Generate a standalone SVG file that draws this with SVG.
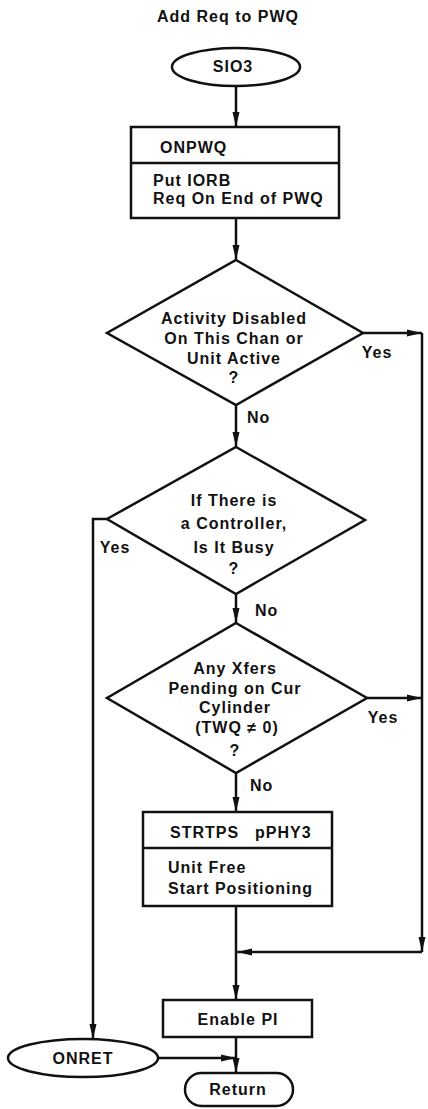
<svg xmlns="http://www.w3.org/2000/svg" width="428" height="1109" viewBox="0 0 428 1109">
  <style>
    .shape { fill: #fff; stroke: #111; stroke-width: 2.5; }
    .line { fill: none; stroke: #111; stroke-width: 2.5; }
    text { font-family: "Liberation Sans", Arial, sans-serif; font-size: 16px; font-weight: bold; fill: #111; letter-spacing: 1px; }
    .mid { text-anchor: middle; }
  </style>
  <defs>
    <marker id="arrow" markerUnits="userSpaceOnUse" markerWidth="16" markerHeight="8" refX="15" refY="4" orient="auto">
      <path d="M0,0.5 L15,4 L0,7.5 z" fill="#111"/>
    </marker>
  </defs>

  <text id="title" class="mid" x="228" y="22">Add Req to PWQ</text>

  <!-- connectors -->
  <g id="connectors">
    <path class="line" d="M236,86 V127" marker-end="url(#arrow)"/>
    <path class="line" d="M236,218 V260" marker-end="url(#arrow)"/>
    <path class="line" d="M236,405 V447" marker-end="url(#arrow)"/>
    <path class="line" d="M236,594 V623" marker-end="url(#arrow)"/>
    <path class="line" d="M236,773 V812" marker-end="url(#arrow)"/>
    <path class="line" d="M236,906 V1000" marker-end="url(#arrow)"/>
    <path class="line" d="M236,1037 V1073" marker-end="url(#arrow)"/>
    <!-- Yes branches to the right rail -->
    <path class="line" d="M363,333 H422" marker-end="url(#arrow)"/>
    <path class="line" d="M367,698 H422" marker-end="url(#arrow)"/>
    <path class="line" d="M422,333 V952" marker-end="url(#arrow)"/>
    <path class="line" d="M422,952 H237" marker-end="url(#arrow)"/>
    <!-- controller busy branch -->
    <path class="line" d="M107,519 H93 V1039" marker-end="url(#arrow)"/>
    <path class="line" d="M158,1058 H236" marker-end="url(#arrow)"/>
    <text x="247" y="423">No</text>
    <text x="255" y="616">No</text>
    <text x="250" y="791">No</text>
    <text class="mid" x="377" y="358">Yes</text>
    <text class="mid" x="383" y="723">Yes</text>
    <text class="mid" x="115" y="553">Yes</text>
  </g>

  <g id="sio3">
    <ellipse class="shape" cx="236" cy="67" rx="64" ry="19"/>
    <text class="mid" x="233" y="72">SIO3</text>
  </g>

  <g id="onpwq">
    <rect class="shape" x="131" y="127" width="208" height="91"/>
    <path class="line" d="M131,163 H339"/>
    <text x="160" y="153">ONPWQ</text>
    <text x="153" y="186">Put IORB</text>
    <text x="153" y="204">Req On End of PWQ</text>
  </g>

  <g id="activity-check">
    <polygon class="shape" points="236,260 363,333 236,405 107,333"/>
    <text class="mid" x="234" y="324">Activity Disabled</text>
    <text class="mid" x="234" y="344">On This Chan or</text>
    <text class="mid" x="234" y="364">Unit Active</text>
    <text class="mid" x="234" y="383">?</text>
  </g>

  <g id="controller-check">
    <polygon class="shape" points="236,447 365,520 236,594 107,519"/>
    <text class="mid" x="234" y="506">If There is</text>
    <text class="mid" x="234" y="529">a Controller,</text>
    <text class="mid" x="234" y="553">Is It Busy</text>
    <text class="mid" x="234" y="574">?</text>
  </g>

  <g id="xfers-check">
    <polygon class="shape" points="236,623 367,698 236,773 107,698"/>
    <text class="mid" x="235" y="674">Any Xfers</text>
    <text class="mid" x="235" y="694">Pending on Cur</text>
    <text class="mid" x="235" y="713">Cylinder</text>
    <text class="mid" x="237" y="733">(TWQ ≠ 0)</text>
    <text class="mid" x="235" y="756">?</text>
  </g>

  <g id="strtps">
    <rect class="shape" x="143" y="812" width="189" height="94"/>
    <path class="line" d="M143,848 H332"/>
    <text x="170" y="838">STRTPS<tspan x="255">pPHY3</tspan></text>
    <text x="168" y="873">Unit Free</text>
    <text x="168" y="894">Start Positioning</text>
  </g>

  <g id="enable-pi">
    <rect class="shape" x="163" y="1000" width="149" height="37"/>
    <text class="mid" x="238" y="1025">Enable PI</text>
  </g>

  <g id="onret">
    <ellipse class="shape" cx="83" cy="1058" rx="75" ry="19"/>
    <text class="mid" x="83" y="1064">ONRET</text>
  </g>

  <g id="return">
    <rect class="shape" x="185" y="1073" width="108" height="33" rx="16.5"/>
    <text class="mid" x="238" y="1095">Return</text>
  </g>
</svg>
